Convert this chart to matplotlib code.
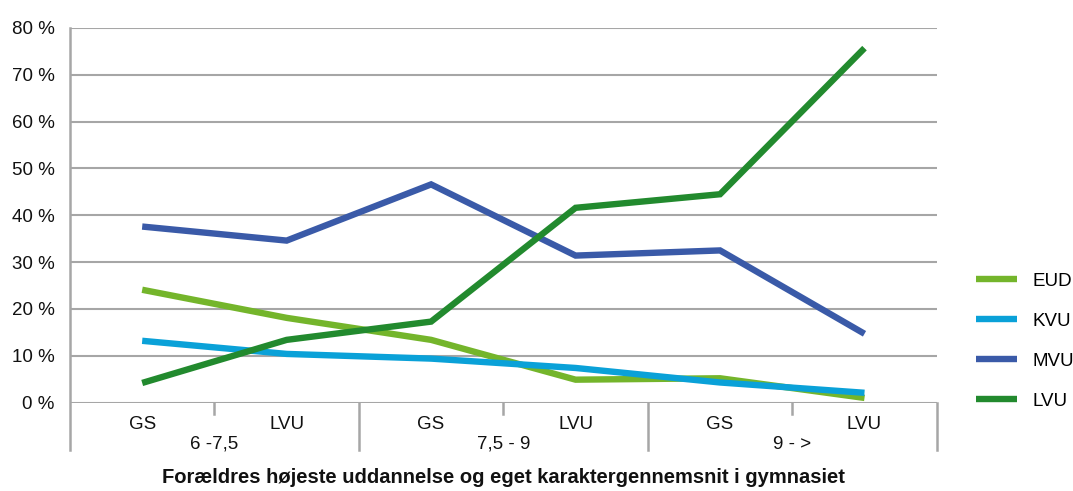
import numpy as np
import matplotlib
matplotlib.use('Agg')
import matplotlib.pyplot as plt

plt.rcParams['font.family'] = ['Liberation Sans', 'DejaVu Sans']

# Data (percent)
categories = ['GS', 'LVU', 'GS', 'LVU', 'GS', 'LVU']
groups = ['6 -7,5', '7,5 - 9', '9 - >']
eud = [24.1, 18.1, 13.4, 4.9, 5.2, 1.0]
kvu = [13.2, 10.4, 9.4, 7.4, 4.3, 2.1]
mvu = [37.6, 34.6, 46.6, 31.4, 32.5, 14.7]
lvu = [4.2, 13.4, 17.3, 41.6, 44.5, 75.7]
yticks = [0, 10, 20, 30, 40, 50, 60, 70, 80]
xlabel = 'Forældres højeste uddannelse og eget karaktergennemsnit i gymnasiet'

series = [('EUD', eud, '#74b52b'),
          ('KVU', kvu, '#0aa1d8'),
          ('MVU', mvu, '#3a5aa8'),
          ('LVU', lvu, '#228a2e')]

fig = plt.figure(figsize=(10.73, 4.91), dpi=100)
ax = fig.add_axes([0.0652, 0.180, 0.8078, 0.763])

x = np.arange(len(categories))
for name, vals, col in series:
    ax.plot(x, vals, color=col, lw=4.6, label=name,
            solid_capstyle='butt', solid_joinstyle='miter')

ax.set_xlim(-0.5, len(categories) - 0.5)
ax.set_ylim(0, 80)
ax.set_yticks(yticks)
ax.set_yticklabels(['{} %'.format(v) for v in yticks], fontsize=13.5, color='#111111')
ax.tick_params(axis='y', length=0, pad=11)
ax.set_xticks([])

grid_col = '#a6a6a6'
for v in yticks:
    ax.axhline(v, color=grid_col, lw=1.5, zorder=0)
for s in ['top', 'right', 'bottom', 'left']:
    ax.spines[s].set_visible(False)

trans = ax.get_xaxis_transform()
# group separators and minor ticks below the axis
for xs in [-0.5, 1.5, 3.5, 5.5]:
    ax.plot([xs, xs], [-0.126, 1.0 if xs == -0.5 else 0.0], color=grid_col,
            lw=1.8, transform=trans, clip_on=False, zorder=0)
for xs in [0.5, 2.5, 4.5]:
    ax.plot([xs, xs], [-0.030, 0.0], color=grid_col, lw=1.8,
            transform=trans, clip_on=False, zorder=0)

for i, c in enumerate(categories):
    ax.text(i, -0.058, c, transform=trans, ha='center', va='center',
            fontsize=13.5, color='#111111')
for j, g in enumerate(groups):
    ax.text(2 * j + 0.5, -0.111, g, transform=trans, ha='center', va='center',
            fontsize=13.5, color='#111111')

ax.text(2.5, -0.20, xlabel, transform=trans, ha='center', va='center',
        fontsize=14.5, fontweight='bold', color='#111111')

leg = fig.legend(loc='center left', bbox_to_anchor=(0.8935, 0.305),
                 frameon=False, fontsize=13.5, handlelength=2.2,
                 handletextpad=0.85, labelspacing=1.22)

plt.savefig('out.png', dpi=100)
